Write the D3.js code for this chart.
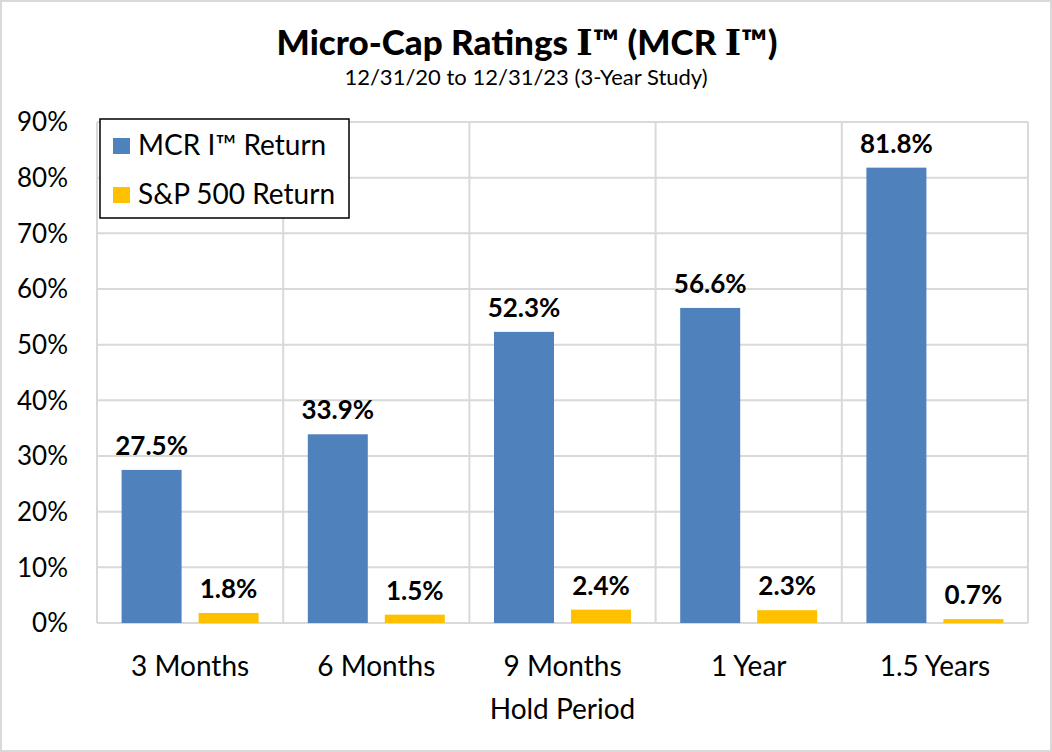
<!DOCTYPE html>
<html>
<head>
<meta charset="utf-8">
<title>MCR I chart</title>
<style>
body { margin: 0; background: #fff; }
svg { display: block; font-family: Lato, "Open Sans", sans-serif; }
</style>
</head>
<body>
<div id="chart"></div>
<script src="https://cdn.jsdelivr.net/npm/d3@7"></script>
<script>
// data
const categories = ["3 Months", "6 Months", "9 Months", "1 Year", "1.5 Years"]
const seriesNames = ["MCR I\u2122 Return", "S&P 500 Return"]
const mcrValues = [27.5, 33.9, 52.3, 56.6, 81.8]
const spValues = [1.8, 1.5, 2.4, 2.3, 0.7]
const yTicks = [0, 10, 20, 30, 40, 50, 60, 70, 80, 90]
const colors = ["#4f81bd", "#ffc000"]

const width = 1052, height = 752
const plot = {left: 97, right: 1028, top: 122, bottom: 623}

const svg = d3.select("#chart").append("svg")
    .attr("width", width).attr("height", height)

// outer frame
svg.append("rect")
    .attr("x", 1).attr("y", 1).attr("width", width - 2).attr("height", height - 2)
    .attr("fill", "#fff").attr("stroke", "#d9d9d9").attr("stroke-width", 2)

const x = d3.scaleBand().domain(categories).range([plot.left, plot.right])
const y = d3.scaleLinear().domain([0, 90]).range([plot.bottom, plot.top])
// two bars of 60px with 17px between them, per category
const inner = d3.scaleBand().domain([0, 1]).range([0, 137]).paddingInner(17 / 77)
const groupOffset = (x.bandwidth() - 137) / 2

// gridlines
svg.append("g").selectAll("line.h").data(yTicks).join("line")
    .attr("x1", plot.left).attr("x2", plot.right)
    .attr("y1", d => y(d)).attr("y2", d => y(d))
    .attr("stroke", "#d9d9d9").attr("stroke-width", 2)
const vLines = categories.map(c => x(c)).concat([plot.right])
svg.append("g").selectAll("line.v").data(vLines).join("line")
    .attr("x1", d => d).attr("x2", d => d)
    .attr("y1", plot.top).attr("y2", plot.bottom)
    .attr("stroke", "#d9d9d9").attr("stroke-width", 2)

// y axis labels
svg.append("g").selectAll("text").data(yTicks).join("text")
    .attr("x", 68).attr("y", d => y(d))
    .attr("dy", "0.36em")
    .attr("text-anchor", "end")
    .attr("font-size", 26).attr("fill", "#000")
    .text(d => d + "%")

// bars
const rows = categories.map((c, i) => ({cat: c, vals: [mcrValues[i], spValues[i]]}))
const groups = svg.append("g").selectAll("g").data(rows).join("g")
    .attr("transform", d => `translate(${x(d.cat) + groupOffset},0)`)

groups.selectAll("rect").data(d => d.vals).join("rect")
    .attr("x", (d, i) => inner(i))
    .attr("width", inner.bandwidth())
    .attr("y", d => y(d))
    .attr("height", d => y(0) - y(d))
    .attr("fill", (d, i) => colors[i])

groups.selectAll("text").data(d => d.vals).join("text")
    .attr("x", (d, i) => inner(i) + inner.bandwidth() / 2)
    .attr("y", d => y(d) - 15)
    .attr("text-anchor", "middle")
    .attr("font-size", 26).attr("font-weight", "bold").attr("fill", "#000")
    .text(d => d.toFixed(1) + "%")

// category labels
svg.append("g").selectAll("text").data(categories).join("text")
    .attr("x", d => x(d) + x.bandwidth() / 2)
    .attr("y", 676)
    .attr("text-anchor", "middle")
    .attr("font-size", 28).attr("fill", "#000")
    .text(d => d)

svg.append("text")
    .attr("x", (plot.left + plot.right) / 2).attr("y", 719)
    .attr("text-anchor", "middle")
    .attr("font-size", 28).attr("fill", "#000")
    .text("Hold Period")

// title
const title = svg.append("text")
    .attr("x", width / 2 + 1).attr("y", 55)
    .attr("text-anchor", "middle")
    .attr("font-size", 35).attr("font-weight", 900).attr("fill", "#000")
title.append("tspan").text("Micro-Cap Ratings ")
title.append("tspan").attr("font-family", "DejaVu Serif").attr("font-weight", "bold").text("I")
title.append("tspan").text("\u2122 (MCR ")
title.append("tspan").attr("font-family", "DejaVu Serif").attr("font-weight", "bold").text("I")
title.append("tspan").text("\u2122)")

svg.append("text")
    .attr("x", width / 2).attr("y", 85)
    .attr("text-anchor", "middle")
    .attr("font-size", 22).attr("fill", "#000")
    .text("12/31/20 to 12/31/23 (3-Year Study)")

// legend
const legend = svg.append("g")
legend.append("rect")
    .attr("x", 100).attr("y", 119).attr("width", 249).attr("height", 99)
    .attr("fill", "#fff").attr("stroke", "#000").attr("stroke-width", 1.5)
const items = legend.selectAll("g").data(seriesNames).join("g")
    .attr("transform", (d, i) => `translate(113,${155 + i * 49})`)
items.append("rect")
    .attr("x", 0).attr("y", -17).attr("width", 17).attr("height", 16)
    .attr("fill", (d, i) => colors[i])
items.append("text")
    .attr("x", 25)
    .attr("font-size", 28).attr("fill", "#000")
    .text(d => d)
</script>
</body>
</html>
